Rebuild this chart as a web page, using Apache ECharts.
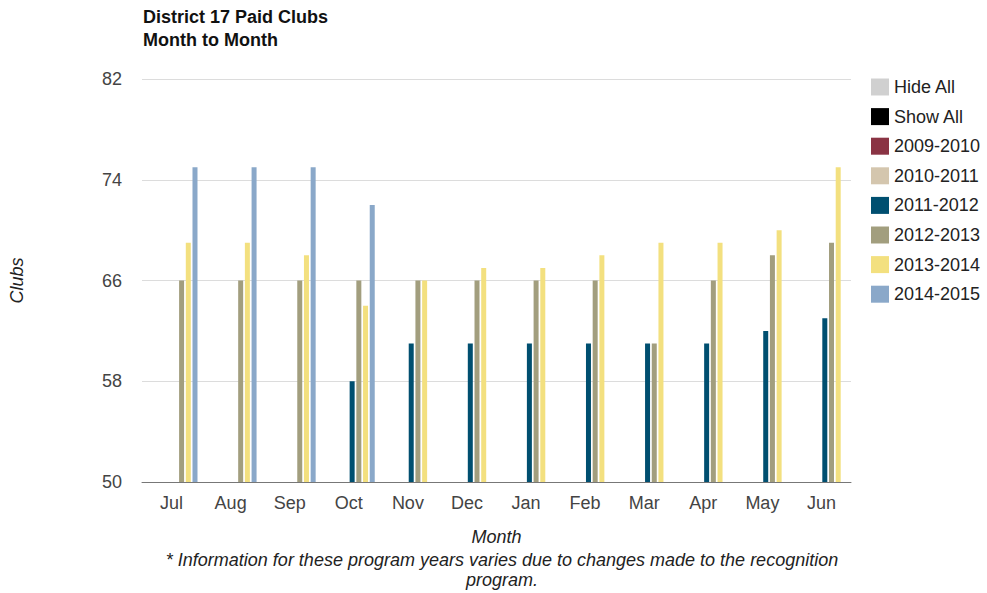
<!DOCTYPE html>
<html>
<head>
<meta charset="utf-8">
<script src="https://cdn.jsdelivr.net/npm/echarts@6/dist/echarts.min.js"></script>
<style>
html,body{margin:0;padding:0;background:#fff;}
#chart{width:987px;height:593px;}
</style>
</head>
<body>
<div id="chart"></div>
<script>
var months = ['Jul','Aug','Sep','Oct','Nov','Dec','Jan','Feb','Mar','Apr','May','Jun'];
var seriesNames = ['Hide All','Show All','2009-2010','2010-2011','2011-2012','2012-2013','2013-2014','2014-2015'];
var seriesColors = ['#d0d0d0','#000000','#8a3344','#d4c6ae','#004f70','#a29e7e','#f3e07f','#8aa8c9'];
var hideAll = [null,null,null,null,null,null,null,null,null,null,null,null];
var showAll = [null,null,null,null,null,null,null,null,null,null,null,null];
var y2009 = [null,null,null,null,null,null,null,null,null,null,null,null];
var y2010 = [null,null,null,null,null,null,null,null,null,null,null,null];
var y2011 = [null,null,null,58,61,61,61,61,61,61,62,63];
var y2012 = [66,66,66,66,66,66,66,66,61,66,68,69];
var y2013 = [69,69,68,64,66,67,67,68,69,69,70,75];
var y2014 = [75,75,75,72,null,null,null,null,null,null,null,null];
var yTicks = [50,58,66,74,82];

var allData = [hideAll, showAll, y2009, y2010, y2011, y2012, y2013, y2014];
var FONT = '"Liberation Sans", Arial, sans-serif';

var series = seriesNames.map(function(n, i){
  return {
    name: n,
    type: 'bar',
    data: allData[i],
    barWidth: 5,
    barGap: '34%',
    itemStyle: {color: seriesColors[i]},
    emphasis: {disabled: true}
  };
});

var chart = echarts.init(document.getElementById('chart'), null, {renderer: 'svg'});
chart.setOption({
  animation: false,
  textStyle: {fontFamily: FONT},
  title: [{
    text: 'District 17 Paid Clubs\nMonth to Month',
    left: 138, top: 0,
    textStyle: {fontSize: 18, fontWeight: 'bold', color: '#111', lineHeight: 23, fontFamily: FONT}
  }, {
    text: '* Information for these program years varies due to changes made to the recognition\nprogram.',
    left: 497, top: 545,
    textAlign: 'center',
    textStyle: {fontSize: 18, fontStyle: 'italic', fontWeight: 'normal', color: '#222', lineHeight: 20, fontFamily: FONT, align: 'center'}
  }],
  legend: {
    orient: 'vertical',
    left: 866, top: 73,
    itemWidth: 18, itemHeight: 17, itemGap: 11.6,
    icon: 'rect',
    data: seriesNames,
    textStyle: {fontSize: 18, color: '#222', fontFamily: FONT, lineHeight: 17},
    selectedMode: false
  },
  grid: {left: 142, right: 136, top: 79, bottom: 111, containLabel: false, outerBoundsMode: 'none'},
  xAxis: {
    type: 'category',
    data: months,
    name: 'Month',
    nameLocation: 'middle',
    nameGap: 46,
    nameTextStyle: {fontSize: 18, fontStyle: 'italic', color: '#222', fontFamily: FONT},
    axisTick: {show: false},
    axisLine: {lineStyle: {color: '#777', width: 1}},
    axisLabel: {fontSize: 18, color: '#444', margin: 12, fontFamily: FONT}
  },
  yAxis: {
    type: 'value',
    min: 50, max: 82,
    interval: 8,
    name: 'Clubs',
    nameLocation: 'middle',
    nameGap: 116,
    nameRotate: 90,
    nameTextStyle: {fontSize: 18, fontStyle: 'italic', color: '#222', fontFamily: FONT},
    axisLine: {show: false},
    axisTick: {show: false},
    splitLine: {lineStyle: {color: '#dcdcdc', width: 1}},
    axisLabel: {fontSize: 18, color: '#444', margin: 20, fontFamily: FONT,
      customValues: yTicks}
  },
  series: series
});
</script>
</body>
</html>
